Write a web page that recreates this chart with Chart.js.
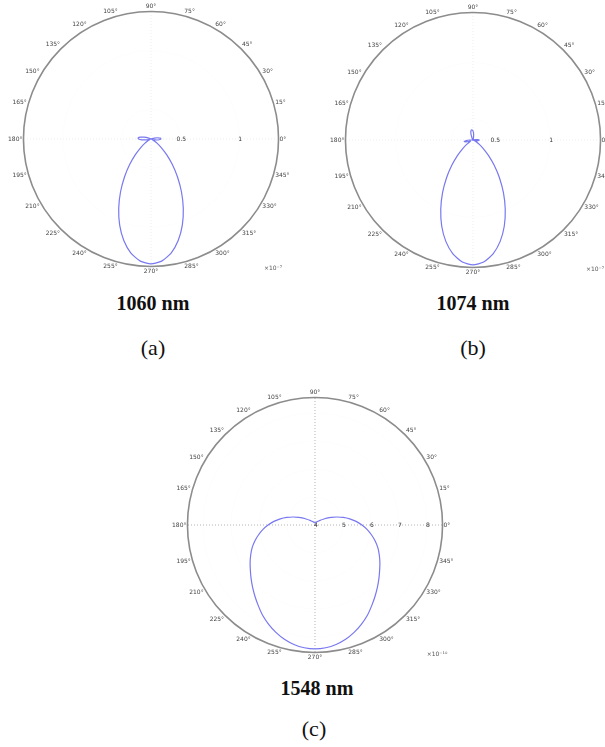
<!DOCTYPE html>
<html>
<head>
<meta charset="utf-8">
<script src="https://cdn.jsdelivr.net/npm/chart.js@4.4.1/dist/chart.umd.min.js"></script>
<style>
  body { margin: 0; background: #fff; }
  #page { position: relative; width: 605px; height: 747px; overflow: hidden; background: #fff; }
  canvas { position: absolute; }
  .cap { position: absolute; transform: translate(-50%, -50%); font-family: "Liberation Serif", serif; line-height: 1; white-space: nowrap; color: #111; }
  .nm { font-weight: bold; font-size: 20px; }
  .sub { font-size: 22px; }
</style>
</head>
<body>
<div id="page">
  <canvas id="plot-a" width="286" height="286" style="left:6px;top:-4px"></canvas>
  <canvas id="plot-b" width="286" height="286" style="left:328px;top:-3px"></canvas>
  <canvas id="plot-c" width="286" height="286" style="left:170px;top:382px"></canvas>

  <div class="cap nm" style="left:153px;top:303px">1060 nm</div>
  <div class="cap sub" style="left:153px;top:348px">(a)</div>
  <div class="cap nm" style="left:473px;top:303px">1074 nm</div>
  <div class="cap sub" style="left:473px;top:348px">(b)</div>
  <div class="cap nm" style="left:317px;top:688px">1548 nm</div>
  <div class="cap sub" style="left:314px;top:729px">(c)</div>
</div>

<script>
Chart.defaults.font.family = '"DejaVu Sans", sans-serif';
Chart.defaults.animation = false;

// polar angle of each sample, degrees, counter-clockwise from the right
const angles = [
    0, 5, 10, 15, 20, 25, 30, 35, 40, 45, 50, 55, 60, 65, 70, 75, 80, 85,
    90, 95, 100, 105, 110, 115, 120, 125, 130, 135, 140, 145, 150, 155, 160, 165, 170, 175,
    180, 185, 190, 195, 200, 205, 210, 215, 220, 225, 230, 235, 240, 245, 250, 255, 260, 265,
    270, 275, 280, 285, 290, 295, 300, 305, 310, 315, 320, 325, 330, 335, 340, 345, 350, 355
];

// far field, x1e-7 (a, b) and x1e-10 (c), one value per angle above
const field1060 = [
    0.335, 0.33, 0.31, 0.28, 0.26, 0.25, 0.25, 0.25, 0.25, 0.25, 0.25, 0.25, 0.25, 0.25, 0.25, 0.25, 0.25, 0.25,
    0.25, 0.25, 0.25, 0.25, 0.25, 0.25, 0.25, 0.25, 0.25, 0.25, 0.25, 0.25, 0.25, 0.25, 0.27, 0.31, 0.34, 0.36,
    0.355, 0.33, 0.29, 0.27, 0.26, 0.264, 0.283, 0.315, 0.366, 0.438, 0.531, 0.642, 0.768, 0.9, 1.029, 1.144, 1.235, 1.293,
    1.313, 1.293, 1.235, 1.144, 1.029, 0.9, 0.768, 0.642, 0.531, 0.438, 0.366, 0.315, 0.283, 0.264, 0.258, 0.27, 0.3, 0.32
];
const field1074 = [
    0.365, 0.35, 0.33, 0.315, 0.31, 0.31, 0.31, 0.31, 0.31, 0.31, 0.31, 0.31, 0.31, 0.31, 0.31, 0.32, 0.34, 0.37,
    0.39, 0.4, 0.4, 0.385, 0.36, 0.33, 0.315, 0.31, 0.31, 0.31, 0.31, 0.31, 0.31, 0.31, 0.31, 0.31, 0.31, 0.315,
    0.34, 0.37, 0.39, 0.375, 0.35, 0.335, 0.345, 0.379, 0.432, 0.507, 0.605, 0.722, 0.854, 0.992, 1.128, 1.248, 1.344, 1.405,
    1.426, 1.405, 1.344, 1.248, 1.128, 0.992, 0.854, 0.722, 0.605, 0.507, 0.432, 0.379, 0.345, 0.325, 0.318, 0.335, 0.35, 0.36
];
const field1548 = [
    5.679, 5.475, 5.261, 5.043, 4.836, 4.646, 4.486, 4.361, 4.275, 4.214, 4.175, 4.15, 4.129, 4.114, 4.1, 4.093, 4.086, 4.079,
    4.075, 4.079, 4.086, 4.093, 4.1, 4.114, 4.129, 4.15, 4.175, 4.214, 4.275, 4.361, 4.486, 4.646, 4.836, 5.043, 5.261, 5.475,
    5.679, 5.875, 6.054, 6.232, 6.393, 6.536, 6.679, 6.821, 6.982, 7.154, 7.336, 7.529, 7.736, 7.918, 8.086, 8.229, 8.336, 8.404,
    8.429, 8.404, 8.336, 8.229, 8.086, 7.918, 7.736, 7.529, 7.336, 7.154, 6.982, 6.821, 6.679, 6.536, 6.393, 6.232, 6.054, 5.875
];

// radial tick labels written along the 0 deg line
const ticks1060 = [0.5, 1];
const ticks1074 = [0.5, 1];
const ticks1548 = [4, 5, 6, 7, 8];

// radar runs clockwise, the reference counter-clockwise -> walk the angles backwards
const order = angles.map((_, i) => (angles.length - i) % angles.length);

// small plugin: radial tick labels on the right-hand axis + the offset text
const radialTicks = {
    id: 'radialTicks',
    afterDraw(chart, args, opts) {
        const s = chart.scales.r;
        const ctx = chart.ctx;
        ctx.save();
        ctx.font = '6px "DejaVu Sans"';
        ctx.fillStyle = '#333';
        ctx.textAlign = 'center';
        ctx.textBaseline = 'middle';
        opts.values.forEach(v => {
            const p = s.getPointPositionForValue(0, v);
            ctx.fillText(String(v), p.x + 1, p.y);
        });
        ctx.fillStyle = '#555';
        ctx.fillText(opts.exponent, s.xCenter + 122, s.yCenter + 129);
        ctx.restore();
    }
};

function makePlot(canvasId, values, rMin, rMax, step, tickValues, exponent, axisColor) {
    return new Chart(document.getElementById(canvasId), {
        type: 'radar',
        data: {
            labels: order.map(k => angles[k] + '°'),
            datasets: [{
                data: order.map(k => values[k]),
                borderColor: '#7878f0',
                borderWidth: 1.2,
                pointRadius: 0,
                fill: false,
                tension: 0.2
            }]
        },
        options: {
            responsive: false,
            events: [],
            plugins: {
                legend: { display: false },
                tooltip: { enabled: false },
                radialTicks: { values: tickValues, exponent: exponent }
            },
            scales: {
                r: {
                    startAngle: 90,
                    min: rMin,
                    max: rMax,
                    beginAtZero: false,
                    ticks: { display: false, stepSize: step },
                    grid: {
                        circular: true,
                        color: c => c.tick && c.tick.value === rMax ? '#8c8c8c' : 'rgba(0,0,0,0.02)',
                        lineWidth: c => c.tick && c.tick.value === rMax ? 1.6 : 0.8
                    },
                    angleLines: {
                        color: axisColor,
                        lineWidth: c => c.index % 18 === 0 ? 1 : 0,      // only 0/90/180/270
                        borderDash: [1, 2]
                    },
                    pointLabels: {
                        color: '#444',
                        padding: 1,
                        font: { size: 6 },
                        callback: (label, i) => i % 3 === 0 ? label : ''  // every 15 deg
                    }
                }
            }
        },
        plugins: [radialTicks]
    });
}

makePlot('plot-a', field1060, 0.25, 1.335, 0.5, ticks1060, '×10⁻⁷', 'rgba(0,0,0,0.07)');
makePlot('plot-b', field1074, 0.31, 1.45, 0.5, ticks1074, '×10⁻⁷', 'rgba(0,0,0,0.07)');
makePlot('plot-c', field1548, 4, 8.56, 1, ticks1548, '×10⁻¹⁰', 'rgba(0,0,0,0.3)');
</script>
</body>
</html>
